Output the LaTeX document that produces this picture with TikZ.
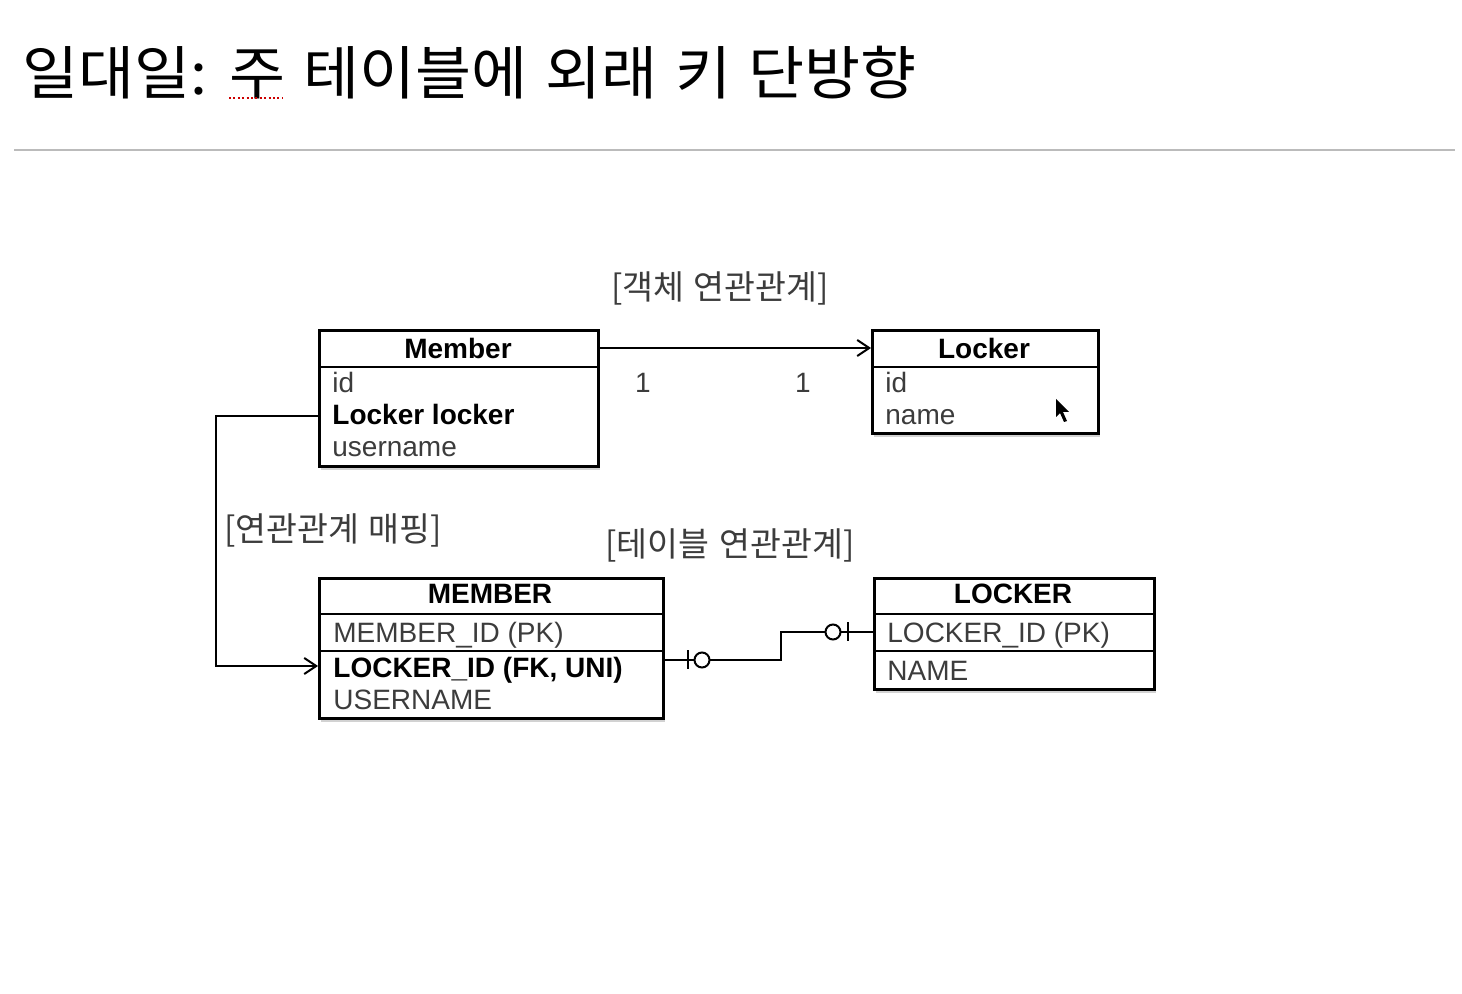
\documentclass[tikz,border=0pt]{standalone}
\usepackage{fontspec}
\setmainfont{Liberation Sans}
\newfontfamily\kr{Noto Sans CJK KR}
\newfontfamily\krtitle[WordSpace=1.3]{Noto Sans CJK KR}
\usetikzlibrary{arrows.meta,shadows}
\definecolor{rowgray}{HTML}{3C3C3C}
\definecolor{rulegray}{HTML}{BBBBBB}
\begin{document}
\begin{tikzpicture}[x=0.5pt,y=-0.5pt,
  tbl/.style={draw=black, line width=1.3pt, fill=white, inner sep=0pt, anchor=north west,
    drop shadow={opacity=0.35, shadow xshift=1pt, shadow yshift=-2pt}},
  hdr/.style={font=\bfseries\fontsize{14}{16}\selectfont, inner sep=0pt},
  rowtxt/.style={anchor=base west, inner sep=0pt, font=\fontsize{14}{16}\selectfont, text=rowgray},
  rowbold/.style={rowtxt, font=\bfseries\fontsize{14}{16}\selectfont, text=black},
  divider/.style={line width=1.3pt},
  lbl/.style={font=\kr\fontsize{16.8}{19}\selectfont, text=rowgray, inner sep=0pt},
  conn/.style={line width=1pt},
  arr/.style={conn, -{Straight Barb[length=6pt, width=8pt]}},
  ermark/.style={line width=1pt, fill=white}
]
\fill[white] (0,0) rectangle (1462,994);
\useasboundingbox (0,0) rectangle (1462,994);

% title
\node[anchor=base west, inner sep=0pt, font=\krtitle\fontsize{29}{34}\selectfont, text=black] (title) at (22,95) {\scalebox{1.05}[1]{일대일: 주 테이블에 외래 키 단방향}};
\draw[red!80!black, line width=1pt, dash pattern=on 1pt off 1.2pt] (229,98) -- (282,98);
\draw[rulegray, line width=1pt] (14,150) -- (1455,150);

% object boxes
\node[tbl, minimum width=139.5pt, minimum height=68pt] (member) at (318,329) {};
\draw[divider] (318,367) -- (597,367);
\node[hdr] (memberhdr) at (458,348) {Member};
\node[rowtxt] (mid) at (332,393) {id};
\node[rowbold] (mlock) at (332,425) {Locker locker};
\node[rowtxt] (muser) at (332,457) {username};

\node[tbl, minimum width=113pt, minimum height=51.5pt] (locker) at (871,329) {};
\draw[divider] (871,367) -- (1097,367);
\node[hdr] (lockerhdr) at (984,348) {Locker};
\node[rowtxt] (lid) at (885,393) {id};
\node[rowtxt] (lname) at (885,425) {name};

% table boxes
\node[tbl, minimum width=172pt, minimum height=70pt] (MEMBER) at (318,577) {};
\draw[divider] (318,614) -- (662,614);
\draw[divider] (318,651) -- (662,651);
\node[hdr] (MEMBERhdr) at (490,594) {MEMBER};
\node[rowtxt] (Mpk) at (333,642) {MEMBER\_ID (PK)};
\node[rowbold] (Mfk) at (333,677) {LOCKER\_ID (FK, UNI)};
\node[rowtxt] (Muser) at (333,709) {USERNAME};

\node[tbl, minimum width=140pt, minimum height=55.5pt] (LOCKER) at (873,577) {};
\draw[divider] (873,614) -- (1153,614);
\draw[divider] (873,651) -- (1153,651);
\node[hdr] (LOCKERhdr) at (1013,594) {LOCKER};
\node[rowtxt] (Lpk) at (887,642) {LOCKER\_ID (PK)};
\node[rowtxt] (Lname) at (887,680) {NAME};

% labels
\node[lbl] (objlbl) at (720,288) {[객체 연관관계]};
\node[lbl] (maplbl) at (333,530) {[연관관계 매핑]};
\node[lbl] (tbllbl) at (730,545) {[테이블 연관관계]};
\node[font=\fontsize{14}{16}\selectfont, text=rowgray, inner sep=0pt] (one1) at (643,383) {1};
\node[font=\fontsize{14}{16}\selectfont, text=rowgray, inner sep=0pt] (one2) at (803,383) {1};

% object association
\draw[arr] (member.east |- memberhdr) -- (locker.west |- lockerhdr);

% mapping connector
\coordinate (ylock) at (0,416);
\coordinate (yfk) at (0,666);
\coordinate (leftbend) at (216,540);
\draw[arr] (member.west |- ylock) -| (leftbend) |- (MEMBER.west |- yfk);

% ER connector
\coordinate (yfk2) at (0,660);
\coordinate (ypk2) at (0,632);
\coordinate (step) at (781,646);
\draw[conn] (MEMBER.east |- yfk2) -| (step) |- (LOCKER.west |- ypk2);
\draw[conn] (688,650) -- (688,669);
\draw[ermark] (702,660) circle[radius=7.5];
\draw[ermark] (833,632) circle[radius=7.5];
\draw[conn] (848,622) -- (848,641);

% mouse pointer
\fill[black] (1056,399) -- (1056,417) -- (1060,413) -- (1064,422) -- (1067,421) -- (1063,412) -- (1069,412) -- cycle;
\end{tikzpicture}
\end{document}
